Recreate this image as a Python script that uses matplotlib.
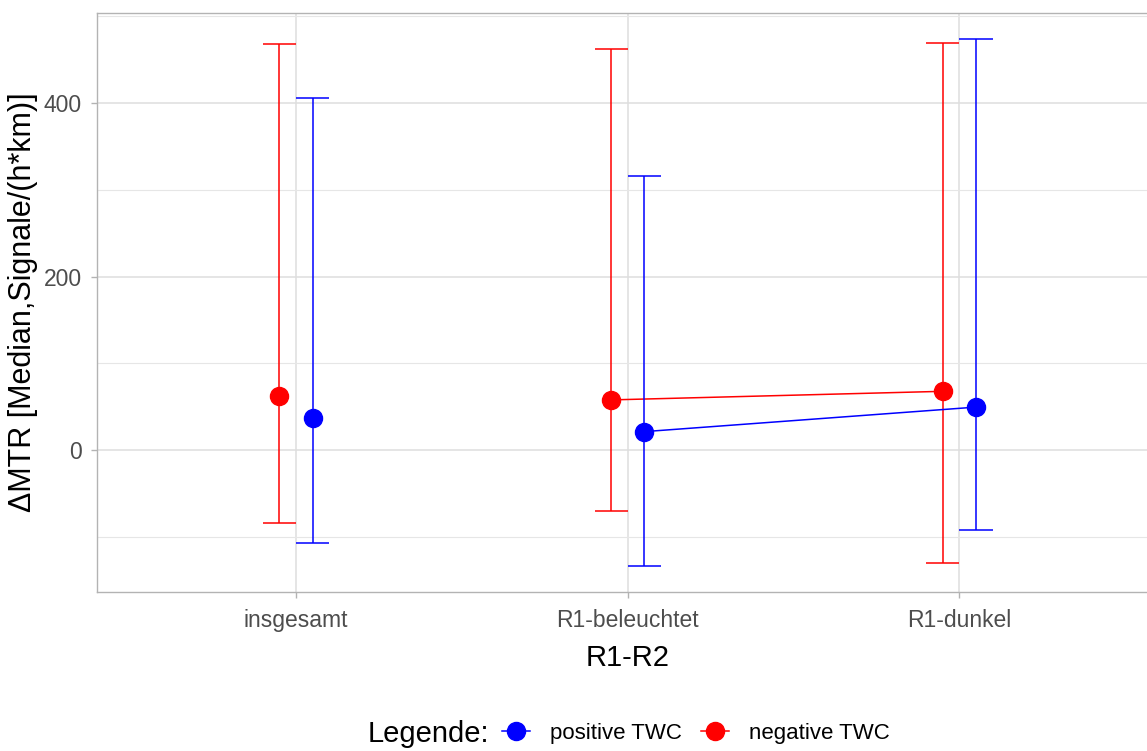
import matplotlib
matplotlib.use("Agg")
import matplotlib.pyplot as plt
from matplotlib.lines import Line2D
import numpy as np

plt.rcParams['font.family'] = ['Liberation Sans', 'DejaVu Sans']

categories = ["insgesamt", "R1-beleuchtet", "R1-dunkel"]
neg_median = [62.7, 57.7, 67.6]
neg_low = [-83.8, -70.6, -130.5]
neg_high = [468.6, 462.8, 469.0]
pos_median = [37.0, 21.1, 49.4]
pos_low = [-106.9, -133.9, -92.0]
pos_high = [405.7, 315.4, 474.2]
connected = [False, True, True]  # categories joined by a line
y_major = [0, 200, 400]
y_minor = [-100, 100, 300, 500]

series = [
    ("negative TWC", "#FF0000", -0.05, neg_median, neg_low, neg_high),
    ("positive TWC", "#0000FF", 0.05, pos_median, pos_low, pos_high),
]

fig = plt.figure(figsize=(11.47, 7.51), dpi=100)
ax = fig.add_axes([0.0846, 0.2117, 0.9254, 0.771])

x0 = np.arange(1, len(categories) + 1)
cap_half = 0.05
for name, col, off, med, lo, hi in series:
    xs = x0 + off
    conn = np.array(connected)
    ax.plot(xs[conn], np.array(med)[conn], color=col, lw=1.1, zorder=3)
    ax.vlines(xs, lo, hi, color=col, lw=1.1, zorder=3)
    ax.hlines(lo, xs - cap_half, xs + cap_half, color=col, lw=1.1, zorder=3)
    ax.hlines(hi, xs - cap_half, xs + cap_half, color=col, lw=1.1, zorder=3)
    ax.plot(xs, med, 'o', color=col, ms=13, mec=col, zorder=4, ls='none')

ax.set_xlim(0.4, 3.6)
ax.set_ylim(-163.9, 504.0)
ax.set_xticks(x0)
ax.set_xticklabels(categories)
ax.set_yticks(y_major)
ax.set_yticks(y_minor, minor=True)
ax.grid(True, which='major', color='#DEDEDE', lw=1.1, zorder=0)
ax.grid(True, which='minor', axis='y', color='#E6E6E6', lw=0.8, zorder=0)
ax.set_axisbelow(True)
for s in ax.spines.values():
    s.set_color('#B3B3B3')
    s.set_linewidth(1.0)
ax.tick_params(axis='both', which='major', colors='#B3B3B3', labelcolor='#4D4D4D',
               labelsize=16.5, length=4, width=1.0)
ax.tick_params(axis='x', which='major', pad=8)
ax.tick_params(axis='y', which='major', pad=7)
ax.tick_params(axis='y', which='minor', length=0)

ax.set_xlabel("R1-R2", fontsize=21, color='black', labelpad=9)
ax.set_ylabel("ΔMTR [Median,Signale/(h*km)]", fontsize=22, color='black', labelpad=4)

fig.text(368 / 1147, 1 - 742 / 751, "Legende:", fontsize=21, ha='left', va='baseline')
handles = [
    Line2D([], [], color="#0000FF", marker='o', ms=13, lw=1.1, label="positive TWC"),
    Line2D([], [], color="#FF0000", marker='o', ms=13, lw=1.1, label="negative TWC"),
]
fig.legend(handles=handles, loc='center left', bbox_to_anchor=(502 / 1147, 1 - 733 / 751),
           ncol=2, frameon=False, fontsize=16, handlelength=1.26, handletextpad=0.9,
           columnspacing=0.86, borderaxespad=0, borderpad=0)

fig.savefig("out.png", dpi=100)
